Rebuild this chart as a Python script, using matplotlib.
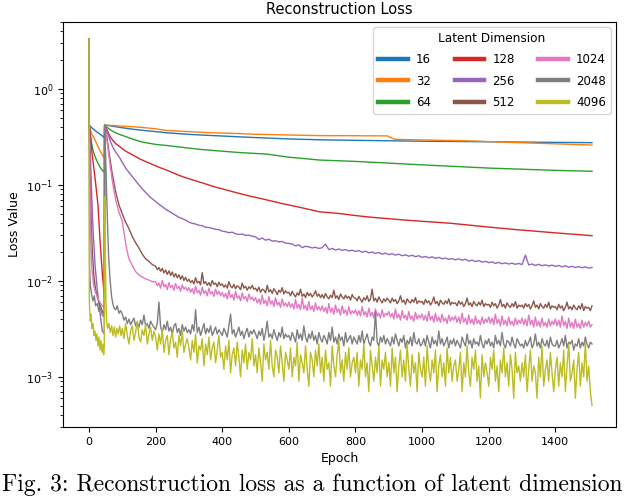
import numpy as np
import matplotlib
matplotlib.use("Agg")
import matplotlib.pyplot as plt

# ---------------- data ----------------
latent_dims = ["16", "32", "64", "128", "256", "512", "1024", "2048", "4096"]

# smooth series: explicit epochs / values
ep_16 = [0, 1, 10, 20, 30, 40, 46, 47, 60, 80, 100, 130, 153, 200, 233, 300, 350, 432, 500,
         600, 692, 800, 900, 1000, 1100, 1200, 1300, 1400, 1510]
val_16 = [3.3, 0.42, 0.39, 0.365, 0.345, 0.325, 0.31, 0.42, 0.415, 0.405, 0.395, 0.382, 0.374,
          0.36, 0.35, 0.337, 0.33, 0.32, 0.312, 0.302, 0.296, 0.292, 0.289, 0.286, 0.284, 0.282,
          0.280, 0.278, 0.276]

ep_32 = [0, 1, 5, 10, 18, 25, 33, 40, 46, 47, 60, 80, 100, 130, 153, 200, 233, 300, 350, 432,
         500, 600, 692, 800, 896, 905, 918, 1000, 1100, 1163, 1250, 1350, 1450, 1510]
val_32 = [3.3, 0.42, 0.37, 0.33, 0.295, 0.26, 0.23, 0.205, 0.19, 0.42, 0.42, 0.415, 0.41, 0.405,
          0.40, 0.385, 0.37, 0.36, 0.352, 0.345, 0.338, 0.332, 0.327, 0.326, 0.325, 0.312, 0.299,
          0.295, 0.29, 0.287, 0.279, 0.272, 0.265, 0.261]

ep_64 = [0, 1, 4, 8, 12, 20, 30, 38, 46, 47, 52, 60, 70, 80, 93, 110, 132, 160, 200, 233, 280,
         333, 400, 450, 533, 600, 692, 800, 900, 1000, 1100, 1200, 1300, 1400, 1510]
val_64 = [3.3, 0.42, 0.34, 0.27, 0.23, 0.19, 0.16, 0.145, 0.135, 0.42, 0.405, 0.385, 0.365, 0.35,
          0.335, 0.32, 0.30, 0.28, 0.265, 0.258, 0.247, 0.235, 0.225, 0.218, 0.21, 0.195, 0.182,
          0.176, 0.169, 0.162, 0.156, 0.150, 0.146, 0.142, 0.139]

ep_128 = [0, 1, 5, 10, 18, 27, 33, 40, 46, 47, 55, 65, 80, 93, 110, 132, 155, 183, 210, 233, 270,
          300, 333, 380, 432, 480, 533, 580, 633, 692, 750, 800, 850, 900, 950, 1000, 1050, 1082,
          1130, 1180, 1230, 1280, 1330, 1380, 1430, 1480, 1510]
val_128 = [3.3, 0.42, 0.3, 0.2, 0.12, 0.062, 0.027, 0.012, 0.007, 0.42, 0.37, 0.31, 0.27, 0.25,
           0.225, 0.205, 0.185, 0.168, 0.153, 0.143, 0.126, 0.116, 0.107, 0.095, 0.085, 0.077,
           0.070, 0.064, 0.0585, 0.0525, 0.0505, 0.048, 0.046, 0.0445, 0.043, 0.0418, 0.0407,
           0.040, 0.0385, 0.037, 0.0356, 0.0343, 0.0332, 0.0321, 0.0311, 0.0302, 0.0296]

# noisy series: early part explicit, later part sampled at a fixed epoch step (units of 1e-4)
ep_256_early = [0, 1, 4, 8, 12, 18, 25, 32, 40, 46, 47, 55, 65, 75, 93, 110, 132, 155, 183, 210,
                233, 270, 290]
val_256_early = [3.3, 0.42, 0.2, 0.08, 0.035, 0.015, 0.008, 0.005, 0.003, 0.0028, 0.42, 0.36,
                 0.28, 0.235, 0.19, 0.15, 0.12, 0.095, 0.075, 0.063, 0.055, 0.046, 0.043]
late_256 = [410, 398, 392, 380, 376, 362, 360, 352, 345, 342,
            330, 326, 318, 322, 310, 305, 308, 298, 300, 292,
            288, 270, 280, 266, 272, 260, 262, 255, 258, 248,
            246, 242, 232, 238, 222, 230, 226, 221, 224, 218,
            222, 242, 212, 218, 210, 215, 208, 212, 205, 209,
            203, 207, 199, 204, 196, 200, 193, 198, 190, 195,
            188, 192, 186, 190, 183, 187, 181, 185, 179, 183,
            176, 180, 174, 178, 172, 176, 170, 173, 168, 171,
            166, 170, 164, 168, 161, 165, 159, 163, 157, 160,
            155, 158, 152, 156, 151, 154, 150, 153, 149, 152,
            148, 186, 147, 150, 145, 149, 144, 147, 143, 146,
            142, 145, 140, 144, 139, 142, 138, 141, 137, 140,
            136, 138]
late_256_start, late_256_step = 300, 10

ep_512_early = [0, 1, 3, 6, 10, 15, 20, 30, 40, 46, 47, 52, 60, 70, 80, 90, 100, 110, 120, 130,
                140, 150, 160, 170, 180, 190]
val_512_early = [3.3, 0.42, 0.15, 0.05, 0.02, 0.011, 0.008, 0.006, 0.0048, 0.0045, 0.42, 0.35,
                 0.22, 0.13, 0.085, 0.062, 0.05, 0.041, 0.035, 0.029, 0.025, 0.022, 0.019,
                 0.017, 0.016, 0.0148]
late_512 = [142, 131, 138, 126, 135, 121, 130, 117, 127, 114, 124, 110, 119, 108, 116, 104, 113, 101, 109, 99,
            104, 96, 101, 93, 108, 95, 99, 91, 122, 94, 98, 90, 96, 88, 101, 92, 95, 87, 97, 90,
            93, 86, 91, 84, 98, 88, 85, 92, 83, 89, 86, 81, 95, 84, 88, 80, 87, 83, 90, 82,
            84, 78, 86, 76, 82, 80, 75, 90, 77, 81, 74, 83, 78, 72, 80, 76, 85, 73, 79, 75,
            76, 70, 78, 72, 68, 75, 71, 82, 69, 73, 67, 76, 70, 74, 68, 72, 79, 69, 73, 67,
            72, 66, 74, 68, 65, 71, 67, 80, 66, 70, 64, 73, 68, 65, 71, 66, 69, 63, 72, 67,
            66, 62, 69, 64, 60, 67, 63, 70, 61, 65, 82, 62, 66, 60, 68, 63, 59, 65, 61, 66,
            63, 59, 66, 61, 64, 58, 62, 70, 60, 63, 57, 65, 61, 59, 64, 60, 67, 58, 62, 60,
            61, 57, 64, 59, 62, 56, 60, 68, 58, 61, 55, 63, 59, 57, 62, 58, 65, 56, 60, 58,
            59, 55, 62, 57, 60, 54, 58, 66, 56, 59, 54, 61, 57, 55, 60, 56, 63, 54, 58, 56,
            57, 53, 60, 55, 58, 52, 56, 64, 54, 57, 52, 59, 55, 53, 58, 54, 61, 52, 56, 54,
            56, 52, 58, 54, 57, 51, 55, 62, 53, 56, 51, 58, 54, 52, 57, 53, 60, 51, 55, 53,
            54, 50, 57, 52, 55, 49, 53, 60, 51, 54, 50, 56, 52, 50, 55, 51, 58, 49, 54, 52,
            53, 49, 55]
late_512_start, late_512_step = 200, 5

ep_1024_early = [0, 1, 2, 4, 6, 9, 14, 20, 30, 40, 46, 47, 52, 60, 70, 80, 90, 100, 105, 110,
                 115, 120, 130, 140, 150, 160, 170, 180, 190]
val_1024_early = [3.3, 0.42, 0.2, 0.06, 0.025, 0.013, 0.009, 0.0075, 0.0062, 0.0055, 0.0052,
                  0.42, 0.33, 0.2, 0.11, 0.07, 0.052, 0.042, 0.032, 0.025, 0.02, 0.017, 0.0145,
                  0.0125, 0.0115, 0.011, 0.0105, 0.0102, 0.0098]
late_1024 = [98, 89, 95, 84, 101, 87, 92, 81, 96, 85, 90, 80, 94, 83, 88, 78, 91, 82, 86, 79,
             85, 76, 83, 73, 88, 75, 80, 71, 86, 74, 79, 70, 84, 73, 77, 69, 82, 72, 78, 70,
             76, 68, 74, 65, 80, 67, 72, 63, 78, 66, 70, 62, 75, 65, 69, 61, 73, 64, 68, 62,
             67, 59, 65, 57, 71, 58, 63, 55, 69, 57, 62, 54, 67, 56, 60, 53, 65, 55, 59, 54,
             60, 53, 58, 51, 64, 52, 57, 50, 66, 51, 56, 49, 61, 50, 55, 48, 59, 50, 54, 49,
             55, 48, 53, 46, 58, 47, 52, 45, 56, 47, 51, 44, 55, 46, 50, 44, 54, 45, 49, 46,
             50, 44, 49, 43, 54, 44, 48, 42, 52, 43, 47, 41, 51, 43, 46, 41, 50, 42, 46, 44,
             48, 42, 46, 40, 51, 41, 45, 39, 49, 41, 44, 39, 48, 40, 43, 38, 47, 40, 44, 41,
             45, 39, 44, 38, 48, 39, 43, 37, 46, 38, 42, 37, 45, 38, 41, 36, 44, 38, 42, 39,
             43, 37, 42, 36, 46, 37, 41, 35, 44, 36, 40, 35, 43, 36, 39, 35, 42, 36, 40, 37,
             42, 36, 41, 35, 45, 36, 40, 34, 43, 35, 39, 34, 42, 35, 38, 34, 41, 35, 39, 36,
             41, 35, 40, 34, 44, 35, 39, 33, 42, 34, 38, 33, 41, 34, 37, 33, 40, 34, 38, 35,
             40, 34, 39, 33, 43, 34, 38, 32, 41, 33, 37, 32, 40, 33, 36, 32, 39, 33, 37, 34,
             38, 33, 35]
late_1024_start, late_1024_step = 200, 5

ep_2048_early = [0, 1, 2, 4, 8, 12, 16, 20, 25, 30, 35, 40, 46, 47, 50, 53, 56, 59, 63, 68, 72,
                 76, 80, 85, 90, 95]
val_2048_early = [3.3, 0.2, 0.013, 0.009, 0.0072, 0.0062, 0.007, 0.0055, 0.0058, 0.0048, 0.0052,
                  0.0044, 0.0042, 0.42, 0.2, 0.08, 0.036, 0.018, 0.0105, 0.0068, 0.0057, 0.0052,
                  0.005, 0.0055, 0.0046, 0.0049]
late_2048 = [45, 39, 42, 36, 40, 35, 38, 41, 34, 37, 33, 39, 35, 44, 34, 36, 32, 38, 35, 33,
             31, 36, 60, 33, 29, 35, 31, 38, 30, 33, 28, 34, 36, 29, 32, 27, 35, 30, 33, 29,
             31, 28, 35, 30, 50, 29, 33, 27, 31, 36, 28, 32, 29, 34, 27, 30, 33, 28, 31, 29,
             27, 32, 29, 26, 34, 45, 28, 31, 26, 29, 33, 27, 30, 25, 29, 32, 26, 30, 28, 31,
             28, 25, 30, 27, 32, 24, 29, 38, 26, 28, 25, 31, 27, 24, 29, 26, 33, 25, 28, 26,
             27, 24, 29, 26, 23, 31, 25, 28, 24, 34, 26, 23, 28, 25, 30, 24, 27, 22, 29, 25,
             23, 27, 25, 22, 29, 24, 33, 23, 26, 22, 28, 24, 26, 21, 29, 23, 25, 27, 22, 26,
             24, 22, 27, 23, 30, 22, 25, 28, 23, 21, 26, 24, 48, 23, 21, 26, 23, 27, 22, 25,
             23, 21, 26, 22, 28, 24, 21, 25, 23, 27, 20, 24, 22, 26, 21, 29, 23, 22, 25, 21,
             22, 25, 21, 27, 23, 20, 26, 22, 24, 21, 30, 22, 25, 21, 23, 26, 20, 24, 22, 25,
             21, 24, 22, 20, 26, 23, 21, 28, 22, 24, 20, 25, 22, 23, 21, 27, 22, 20, 24, 22,
             25, 21, 23, 20, 27, 22, 24, 21, 29, 22, 20, 24, 23, 21, 26, 22, 20, 25, 23, 21,
             22, 20, 24, 21, 23, 26, 20, 22, 28, 21, 23, 20, 25, 22, 21, 24, 20, 26, 22, 21,
             21, 24, 20, 22, 25, 21, 27, 20, 23, 22, 24, 19, 22, 21, 25, 20, 23, 21, 26, 22,
             20, 23, 22]
late_2048_start, late_2048_step = 100, 5

ep_4096_early = [0, 1, 2, 4, 6, 9, 12, 15, 18, 21, 24, 27, 30, 33, 36, 39, 42, 44, 46, 47, 49,
                 51, 53, 56, 60, 64, 68, 72, 76, 80, 84, 88, 92, 96]
val_4096_early = [3.3, 0.0065, 0.005, 0.0038, 0.0045, 0.0032, 0.0036, 0.0027, 0.003, 0.0024,
                  0.0028, 0.0021, 0.0026, 0.0019, 0.0024, 0.0018, 0.0022, 0.0017, 0.0021, 0.075,
                  0.02, 0.006, 0.0038, 0.0032, 0.0036, 0.0029, 0.0034, 0.0027, 0.0033, 0.0026,
                  0.0032, 0.0028, 0.0034, 0.0027]
late_4096 = [32, 25, 36, 27, 22, 30, 34, 24, 29, 38, 26, 23, 31, 27, 35, 22, 28, 33, 24, 30,
             26, 19, 28, 22, 31, 18, 24, 27, 17, 25, 29, 20, 23, 16, 27, 21, 30, 18, 22, 25,
             20, 15, 24, 18, 28, 14, 21, 19, 25, 13, 22, 17, 26, 15, 20, 23, 14, 19, 27, 16,
             18, 12, 21, 15, 24, 11, 17, 20, 13, 23, 16, 10, 19, 14, 22, 12, 18, 15, 25, 13,
             17, 11, 20, 14, 9, 22, 15, 18, 12, 24, 13, 10, 19, 16, 11, 21, 14, 9, 18, 15,
             12, 20, 10, 16, 13, 23, 9, 17, 14, 11, 21, 12, 8, 18, 15, 10, 19, 13, 22, 11,
             16, 9, 19, 12, 14, 8, 21, 13, 10, 17, 24, 11, 15, 9, 18, 12, 20, 10, 14, 16,
             11, 18, 8, 15, 12, 22, 10, 14, 7, 19, 13, 9, 16, 11, 21, 8, 15, 12, 18, 10,
             14, 8, 20, 11, 16, 7, 13, 19, 10, 15, 9, 22, 12, 8, 17, 11, 14, 7, 18, 12,
             10, 16, 8, 21, 12, 9, 15, 11, 19, 7, 13, 17, 10, 14, 8, 20, 11, 16, 9, 13,
             15, 9, 12, 18, 7, 14, 10, 21, 11, 8, 16, 12, 19, 9, 13, 6, 17, 10, 14, 11,
             8, 16, 12, 19, 9, 13, 7, 15, 11, 20, 10, 14, 8, 17, 12, 6, 18, 11, 13, 9,
             14, 10, 17, 7, 12, 19, 9, 13, 11, 6, 16, 10, 21, 8, 12, 15, 9, 18, 11, 7,
             12, 16, 8, 14, 10, 19, 7, 13, 22, 9, 11, 15, 6, 12, 18, 8, 14, 10, 23, 9,
             13, 7, 5]
late_4096_start, late_4096_step = 100, 5

late_unit = 1e-4

# ---------------- assemble ----------------
def join(ep_early, val_early, late_vals, start, step):
    ep_late = start + step * np.arange(len(late_vals))
    ep = np.concatenate([np.asarray(ep_early, float), ep_late])
    val = np.concatenate([np.asarray(val_early, float), np.asarray(late_vals, float) * late_unit])
    return ep, val

series = [
    (np.array(ep_16), np.array(val_16)),
    (np.array(ep_32), np.array(val_32)),
    (np.array(ep_64), np.array(val_64)),
    (np.array(ep_128), np.array(val_128)),
    join(ep_256_early, val_256_early, late_256, late_256_start, late_256_step),
    join(ep_512_early, val_512_early, late_512, late_512_start, late_512_step),
    join(ep_1024_early, val_1024_early, late_1024, late_1024_start, late_1024_step),
    join(ep_2048_early, val_2048_early, late_2048, late_2048_start, late_2048_step),
    join(ep_4096_early, val_4096_early, late_4096, late_4096_start, late_4096_step),
]

colors = plt.rcParams['axes.prop_cycle'].by_key()['color']

# ---------------- figure ----------------
fig = plt.figure(figsize=(6.24, 4.96), dpi=100)
ax = fig.add_axes([63 / 624, 1 - 427 / 496, (616 - 63) / 624, (427 - 22) / 496])

for (ep, val), lab, c in zip(series, latent_dims, colors):
    ax.plot(ep, val, color=c, lw=1.0, label=lab)

ax.set_yscale('log')
ax.set_xlim(-78, 1582)
ax.set_ylim(3.0e-4, 5.0)
ax.tick_params(labelsize=8)
ax.set_xlabel('Epoch', fontsize=9)
ax.set_ylabel('Loss Value', fontsize=9)
ax.set_title('Reconstruction Loss', fontsize=10.5)

leg = ax.legend(title='Latent Dimension', ncol=3, loc='upper right', fontsize=8.5,
                title_fontsize=8.7, borderaxespad=0.45, handlelength=2.5,
                handletextpad=0.7, labelspacing=0.7, columnspacing=2.0)
for h in leg.get_lines():
    h.set_linewidth(3.2)

fig.text(0.5, 1 - 491 / 496, 'Fig. 3: Reconstruction loss as a function of latent dimension',
         ha='center', va='baseline', family='cmr10', fontsize=17)

fig.savefig('out.png', dpi=100)
